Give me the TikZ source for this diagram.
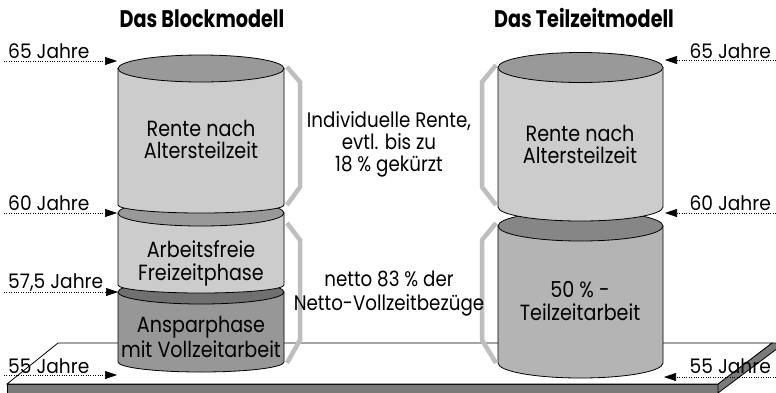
\documentclass[tikz,border=0pt]{standalone}
\usepackage{fontspec}
\setmainfont{Poppins}[FakeStretch=0.93]
\newfontfamily\cylfont{Poppins}[FakeStretch=0.87]
\newfontfamily\ttlfont{Poppins}[FakeStretch=0.8]
\usetikzlibrary{arrows.meta}
\definecolor{bodyL}{HTML}{CCCCCC}
\definecolor{topM}{HTML}{999999}
\definecolor{bodyD}{HTML}{979797}
\definecolor{topD}{HTML}{707070}
\definecolor{bodyR}{HTML}{B4B4B4}
\definecolor{topR}{HTML}{868686}
\definecolor{platC}{HTML}{7A7A7A}
\definecolor{braceC}{HTML}{BEBEBE}
\newcommand\drawcyl[8]{%
  \filldraw[fill=#7, cylline] (#1-#2,#3) -- (#1-#2,#5)
     arc[start angle=180, end angle=0, x radius=#2, y radius=#6] -- (#1+#2,#3) -- cycle;
  \filldraw[fill=#8, cylline] (#1,#3) ellipse[x radius=#2, y radius=#4];
}
\tikzset{
  cylline/.style={draw=black, line width=0.8pt},
  brace/.style={draw=braceC, line width=4.5pt, line join=miter},
  dotarrow/.style={draw=black, line width=0.6pt, dash pattern=on 0.8pt off 1.6pt,
     -{Triangle[length=12pt,width=8pt]}},
  lbl/.style={font=\fontsize{20}{22}\selectfont, inner sep=0pt},
  ctext/.style={font=\cylfont\fontsize{22}{24}\selectfont, inner sep=0pt, anchor=base},
  mtext/.style={font=\cylfont\fontsize{21}{23}\selectfont, inner sep=0pt, anchor=base},
  ttl/.style={font=\ttlfont\fontsize{24}{26}\selectfont\bfseries, inner sep=0pt, anchor=base},
}
\begin{document}
\begin{tikzpicture}[x=1pt,y=-1pt]
\useasboundingbox (0,0) rectangle (776,392);
\fill[white] (0,0) rectangle (776,392);
% platform
\filldraw[fill=platC, draw=black, line width=0.8pt] (7,384) -- (718,384) -- (718,396) -- (7,396) -- cycle;
\filldraw[fill=platC, draw=black, line width=0.8pt] (718,384) -- (772,343) -- (778,343) -- (778,348) -- (718,393) -- cycle;
\filldraw[fill=white, draw=black, line width=0.8pt] (58,343) -- (772,343) -- (718,384) -- (7,384) -- cycle;
% right stack
\drawcyl{580.5}{82.5}{226}{15}{363}{15}{bodyR}{topR}
\drawcyl{580.5}{82.5}{67.5}{15}{207}{14}{bodyL}{topM}
% left stack
\drawcyl{201}{83}{292}{12}{362}{10}{bodyD}{topD}
\drawcyl{201}{83}{213}{13}{285}{8}{bodyL}{topM}
\drawcyl{201}{83}{68.5}{13.5}{205}{8}{bodyL}{topM}
% braces
\draw[brace] (287,67) -- (300,82) -- (300,187) -- (287,205);
\draw[brace] (287,223) -- (300,240) -- (300,340) -- (287,363);
\draw[brace] (496,65) -- (482,82) -- (482,187) -- (496,205);
\draw[brace] (496,223) -- (482,240) -- (482,340) -- (496,363);
% arrow coordinates
\coordinate (a65s) at (4,61);    \coordinate (a65e) at (117,61);
\coordinate (a60s) at (4,213);   \coordinate (a60e) at (117,213);
\coordinate (a57s) at (4,292);   \coordinate (a57e) at (118,292);
\coordinate (a55s) at (4,375);   \coordinate (a55e) at (117,375);
\coordinate (b65s) at (776,60);  \coordinate (b65e) at (665,60);
\coordinate (b60s) at (776,213); \coordinate (b60e) at (665,213);
\coordinate (b55s) at (776,377); \coordinate (b55e) at (664,377);
\draw[dotarrow] (a65s) -- (a65e);
\draw[dotarrow] (a60s) -- (a60e);
\draw[dotarrow] (a57s) -- (a57e);
\draw[dotarrow] (a55s) -- (a55e);
\draw[dotarrow] (b65s) -- (b65e);
\draw[dotarrow] (b60s) -- (b60e);
\draw[dotarrow] (b55s) -- (b55e);
% age labels
\node[lbl, anchor=base west] (l65) at (8,58) {65 Jahre};
\node[lbl, anchor=base west] (l60) at (8,210) {60 Jahre};
\node[lbl, anchor=base west] (l57) at (8,288) {57,5 Jahre};
\node[lbl, anchor=base west] (l55) at (8,373) {55 Jahre};
\node[lbl, anchor=base east] (r65) at (771,58) {65 Jahre};
\node[lbl, anchor=base east] (r60) at (771,210) {60 Jahre};
\node[lbl, anchor=base east] (r55) at (771,373) {55 Jahre};
% titles
\node[ttl] (t1) at (202,27) {Das Blockmodell};
\node[ttl] (t2) at (584,27) {Das Teilzeitmodell};
% cylinder texts
\node[ctext] (c1a) at (201,136) {Rente nach};
\node[ctext] (c1b) at (201,158) {Altersteilzeit};
\node[ctext] (c2a) at (201,257) {Arbeitsfreie};
\node[ctext] (c2b) at (201,280) {Freizeitphase};
\node[ctext] (c3a) at (201,332) {Ansparphase};
\node[ctext] (c3b) at (201,357) {mit Vollzeitarbeit};
\node[ctext] (d1a) at (580,141) {Rente nach};
\node[ctext] (d1b) at (580,163) {Altersteilzeit};
\node[ctext] (d2a) at (580,297) {50 \% -};
\node[ctext] (d2b) at (580,320) {Teilzeitarbeit};
% middle texts
\node[mtext] (m1) at (389,127) {Individuelle Rente,};
\node[mtext] (m2) at (389,149) {evtl. bis zu};
\node[mtext] (m3) at (389,171) {18 \% gekürzt};
\node[mtext] (m4) at (389,286) {netto 83 \% der};
\node[mtext] (m5) at (389,310) {Netto-Vollzeitbezüge};
\end{tikzpicture}
\end{document}
